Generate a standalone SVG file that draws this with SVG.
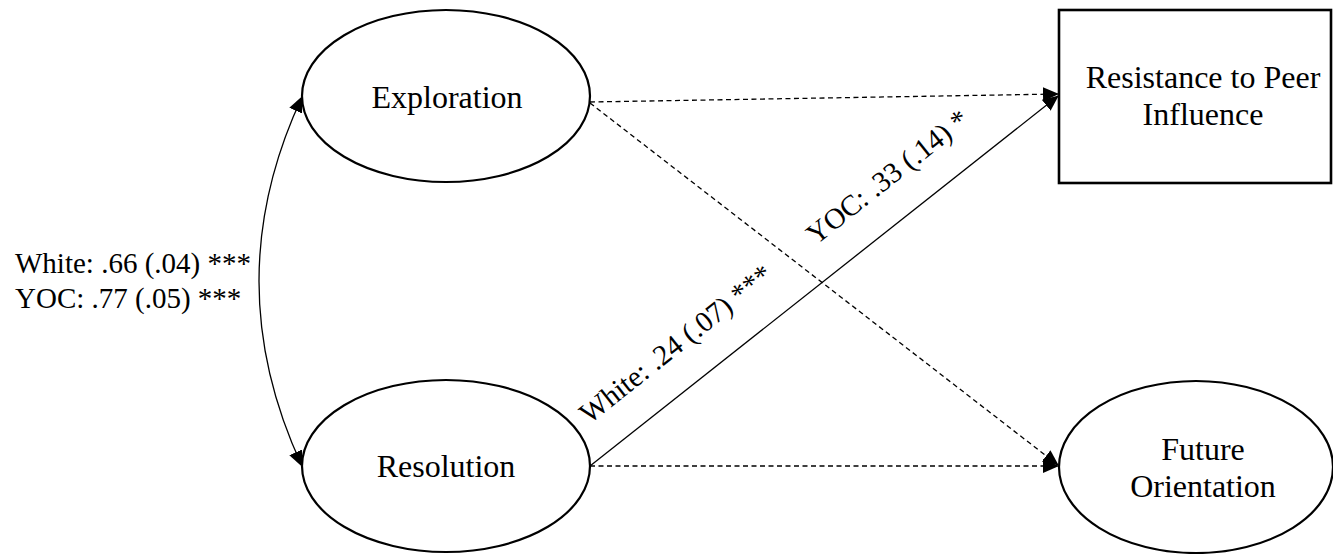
<svg xmlns="http://www.w3.org/2000/svg" width="1333" height="554" viewBox="0 0 1333 554">
  <defs>
    <marker id="arrow" markerUnits="userSpaceOnUse" markerWidth="16" markerHeight="14" viewBox="0 0 16 14" refX="15" refY="7" orient="auto-start-reverse">
      <path d="M0,0 L16,7 L0,14 z" fill="#000"/>
    </marker>
    <style>
      .node { fill: #fff; stroke: #000; stroke-width: 2.2; }
      .box { fill: #fff; stroke: #000; stroke-width: 2.6; }
      .lbl { font-size: 32px; fill: #000; text-anchor: middle; }
      .coef { font-size: 29px; fill: #000; }
      .edge { fill: none; stroke: #000; stroke-width: 1.3; }
      .dash { stroke-dasharray: 5 3.5; }
    </style>
  </defs>
  <rect width="1333" height="554" fill="#fff"/>

  <g font-family="'Liberation Serif', 'DejaVu Serif', serif">
    <!-- paths between constructs -->
    <g id="connectors">
      <path class="edge" d="M302,97 Q216,281 302,466" marker-start="url(#arrow)" marker-end="url(#arrow)"/>
      <line class="edge dash" x1="590" y1="102" x2="1058" y2="94" marker-end="url(#arrow)"/>
      <line class="edge dash" x1="590" y1="103" x2="1058" y2="465" marker-end="url(#arrow)"/>
      <line class="edge dash" x1="590" y1="466" x2="1058" y2="466" marker-end="url(#arrow)"/>
      <line class="edge" x1="590" y1="466" x2="1058" y2="96" marker-end="url(#arrow)"/>
      <text class="coef" x="15" y="273">White: .66 (.04) ***</text>
      <text class="coef" x="15" y="308">YOC: .77 (.05) ***</text>
      <text class="coef" transform="translate(590,466) rotate(-38.3) translate(25,-33)">White: .24 (.07) ***</text>
      <text class="coef" transform="translate(590,466) rotate(-38.3) translate(314,-33)">YOC: .33 (.14) *</text>
    </g>

    <g id="exploration">
      <ellipse class="node" cx="446" cy="96" rx="144" ry="86"/>
      <text class="lbl" x="447" y="108">Exploration</text>
    </g>

    <g id="resolution">
      <ellipse class="node" cx="446" cy="466" rx="144" ry="86"/>
      <text class="lbl" x="446" y="477">Resolution</text>
    </g>

    <g id="resistance">
      <rect class="box" x="1059" y="10" width="272" height="173"/>
      <text class="lbl" x="1203" y="88">Resistance to Peer</text>
      <text class="lbl" x="1203" y="125">Influence</text>
    </g>

    <g id="future">
      <ellipse class="node" cx="1196" cy="467" rx="137" ry="86"/>
      <text class="lbl" x="1203" y="460">Future</text>
      <text class="lbl" x="1203" y="497">Orientation</text>
    </g>
  </g>
</svg>
